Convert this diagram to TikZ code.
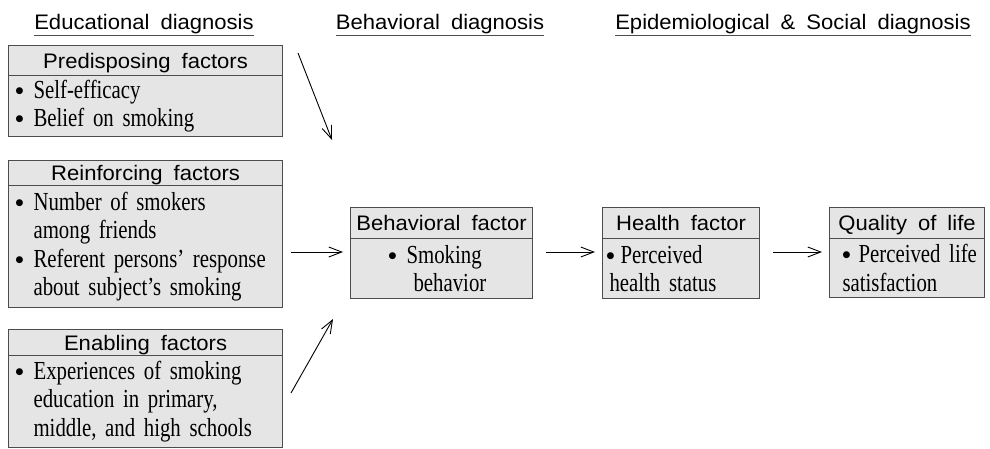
\documentclass[tikz,border=0pt]{standalone}
\usepackage{fontspec}
\setmainfont{Liberation Serif}[FakeStretch=0.8,WordSpace=2.7]
\newfontfamily\hfont{Liberation Sans}[FakeStretch=1.05,WordSpace=1.8]
\newfontfamily\symfont{DejaVu Sans}
\usetikzlibrary{arrows.meta}
\definecolor{boxfill}{gray}{0.9}
\definecolor{boxline}{gray}{0.3}
\newcommand{\bdot}{\raisebox{5pt}{\symfont\fontsize{9}{9}\selectfont ●}}
\newcommand{\bul}{\makebox[19pt][l]{\hspace*{1pt}\bdot}}
\newcommand{\ind}{\hspace*{19pt}}
\begin{document}
\begin{tikzpicture}[x=1pt,y=-1pt,
  hdr/.style={draw=boxline, fill=boxfill, line width=1.1pt, anchor=north west, inner sep=0pt,
    text height=15pt, text depth=0pt, font=\hfont\fontsize{21}{24}\selectfont},
  bdy/.style={draw=boxline, fill=boxfill, line width=1.1pt, anchor=north west, inner xsep=6pt,
    inner ysep=0pt, align=left, font=\fontsize{26}{28.5}\selectfont},
  ttl/.style={font=\hfont\fontsize{21}{24}\selectfont, inner sep=0pt, anchor=base},
  uline/.style={draw=boxline, line width=1pt},
  arr/.style={-{Straight Barb[length=13pt,width=10pt,line width=0.9pt]}, line width=0.9pt}]
\useasboundingbox (0,0) rectangle (990,448);
% titles
\node[ttl] (t1) at (144,29) {Educational diagnosis};
\node[ttl] (t2) at (440,29) {Behavioral diagnosis};
\node[ttl] (t3) at (793,29) {Epidemiological \& Social diagnosis};
\foreach \t in {t1,t2,t3}
  \draw[uline] ([yshift=-1.5pt]\t.south west) -- ([yshift=-1.5pt]\t.south east);
% predisposing
\node[hdr, minimum width=274pt, minimum height=30pt] (ph) at (8,45) {Predisposing factors};
\node[bdy, minimum width=274pt, minimum height=61pt, text width=262pt] (pb) at (8,75)
  {\bul Self-efficacy\\ \bul Belief on smoking};
% reinforcing
\node[hdr, minimum width=274pt, minimum height=25pt] (rh) at (8,160) {Reinforcing factors};
\node[bdy, minimum width=274pt, minimum height=122pt, text width=262pt] (rb) at (8,185)
  {\bul Number of smokers\\ \ind among friends\\ \bul Referent persons' response\\ \ind about subject's smoking};
% enabling
\node[hdr, minimum width=274pt, minimum height=26pt] (eh) at (8,329) {Enabling factors};
\node[bdy, minimum width=274pt, minimum height=92pt, text width=262pt] (eb) at (8,355)
  {\bul Experiences of smoking\\ \ind education in primary,\\ \ind middle, and high schools};
% behavioral
\node[hdr, minimum width=182pt, minimum height=31pt] (bh) at (350,207) {Behavioral factor};
\node[bdy, minimum width=182pt, minimum height=60pt, text width=178pt, inner xsep=2pt] (bb) at (350,238)
  {\hspace*{36pt}\makebox[18pt][l]{\bdot}Smoking\\ \hspace*{61pt}behavior};
% health
\node[hdr, minimum width=157pt, minimum height=31pt] (hh) at (602,207) {Health factor};
\node[bdy, minimum width=157pt, minimum height=60pt, text width=153pt, inner xsep=2pt] (hb) at (602,238)
  {\hspace*{2pt}\makebox[14pt][l]{\bdot}Perceived\\ \hspace*{5pt}health status};
% quality
\node[hdr, minimum width=155pt, minimum height=31pt] (qh) at (829,207) {Quality of life};
\node[bdy, minimum width=155pt, minimum height=59pt, text width=151pt, inner xsep=2pt] (qb) at (829,238)
  {\hspace*{11pt}\makebox[16pt][l]{\bdot}Perceived life\\ \hspace*{11pt}satisfaction};
% arrows
\coordinate (d1s) at (298,53);
\coordinate (d1e) at (332,140);
\coordinate (d2s) at (291,393);
\coordinate (d2e) at (333,319);
\draw[arr] (d1s) -- (d1e);
\draw[arr] (d2s) -- (d2e);
\draw[arr, shorten <=8pt, shorten >=7pt] (rb.east |- 0,252) -- (bb.west |- 0,252);
\draw[arr, shorten <=13pt, shorten >=7pt] (bb.east |- 0,252) -- (hb.west |- 0,252);
\draw[arr, shorten <=13pt, shorten >=7pt] (hb.east |- 0,252) -- (qb.west |- 0,252);
\end{tikzpicture}
\end{document}
